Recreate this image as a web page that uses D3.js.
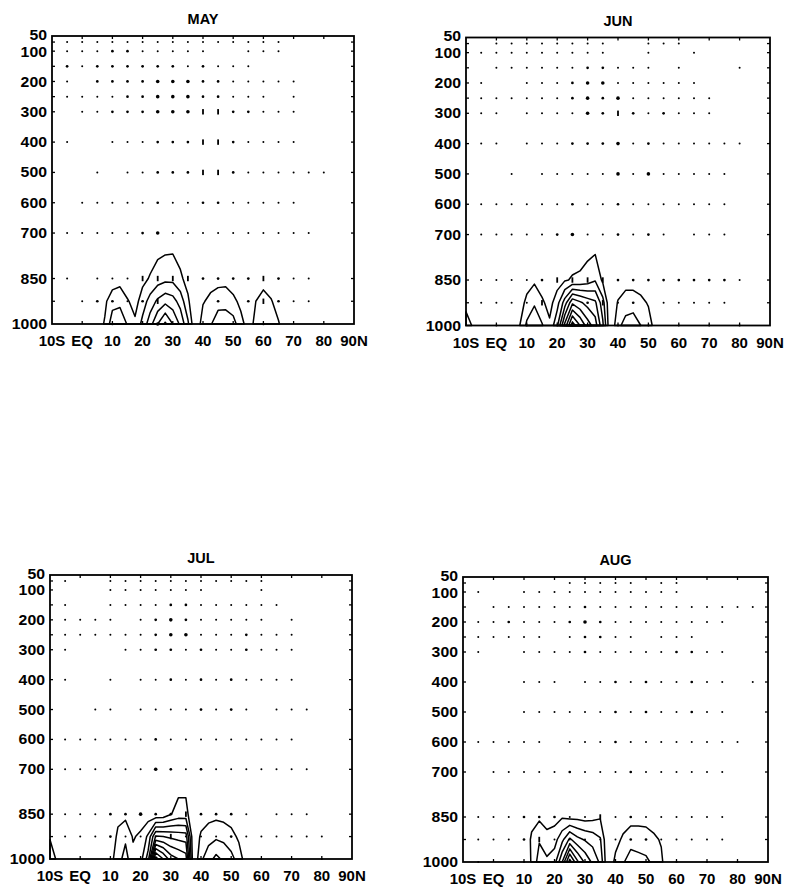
<!DOCTYPE html>
<html>
<head>
<meta charset="utf-8">
<script src="https://cdn.jsdelivr.net/npm/d3@7"></script>
<style>
  body { margin: 0; background: #fff; }
  svg { display: block; }
  text { font-family: "Liberation Sans", Arial, Helvetica, sans-serif; font-weight: bold; fill: #000; }
</style>
</head>
<body>
<svg id="fig" width="786" height="888"></svg>
<script>
// ---- axes ----
const months = ["MAY", "JUN", "JUL", "AUG"];
const pressureTicks = [50, 100, 200, 300, 400, 500, 600, 700, 850, 1000];
const latTicks = [-10, 0, 10, 20, 30, 40, 50, 60, 70, 80, 90];
const latTickLabels = ["10S", "EQ", "10", "20", "30", "40", "50", "60", "70", "80", "90N"];

// ---- circulation vectors: levels (rows) x latitudes 5S..85N (columns) ----
// 0 = none, 1 = small, 2 = medium, 3 = large, 4 = vertical arrow
const vectorLevels = [70, 100, 150, 200, 250, 300, 400, 500, 600, 700, 850, 925, 1000];
const vectorLats = d3.range(-5, 90, 5);

const mayVectors = [
  [1,1,1,1,1,1,1,1,1,1,1,1,1,1,1,0,0,0,0],
  [1,1,1,2,2,1,1,1,1,1,0,0,1,1,1,0,0,0,0],
  [2,1,2,2,2,2,2,2,1,2,1,1,1,0,0,0,0,0,0],
  [1,0,2,2,2,2,3,3,3,2,2,1,1,1,1,1,0,0,0],
  [1,1,1,1,2,2,3,3,3,2,2,1,1,1,0,1,0,0,0],
  [0,1,1,2,2,2,3,3,3,4,4,2,2,1,1,1,0,0,0],
  [1,0,0,1,1,1,2,2,2,4,4,2,1,1,1,1,0,0,0],
  [0,0,1,0,1,1,2,2,2,4,4,2,1,1,1,1,1,1,0],
  [0,1,1,1,1,1,2,1,1,2,2,1,1,1,1,1,0,0,0],
  [1,1,1,1,1,2,3,1,1,1,1,1,1,1,1,1,1,0,0],
  [1,0,1,1,1,4,4,4,4,2,2,2,2,4,2,1,1,0,0],
  [0,1,2,2,1,2,4,0,0,0,2,0,2,4,2,1,1,0,0],
  [0,0,0,2,0,0,3,0,0,0,0,1,0,2,0,0,0,0,0]
];
const junVectors = [
  [0,1,1,1,1,1,1,1,1,0,0,1,1,1,0,0,0,0,0],
  [1,1,1,1,1,1,1,1,1,0,0,1,0,0,1,0,0,0,0],
  [0,1,1,1,1,1,1,2,2,1,1,1,0,1,0,0,0,1,0],
  [1,0,0,1,1,1,2,3,3,1,1,1,1,1,1,0,0,0,0],
  [1,1,1,1,1,1,2,3,2,3,1,1,1,1,1,1,0,0,0],
  [1,1,0,1,1,1,1,3,2,4,2,1,2,1,1,1,0,0,0],
  [1,1,0,1,1,1,2,2,2,3,1,2,1,1,1,1,1,1,0],
  [0,0,1,0,1,1,1,1,1,3,1,3,1,1,1,1,1,0,0],
  [1,1,1,1,1,1,2,1,1,2,1,1,1,1,1,1,1,0,0],
  [1,1,1,1,1,2,3,1,1,2,1,2,1,0,1,1,1,0,0],
  [1,1,1,1,2,4,4,4,4,2,2,2,2,2,2,2,2,1,0],
  [1,1,1,1,4,0,0,2,4,1,2,0,1,1,1,1,1,0,0],
  [0,1,0,1,0,1,1,0,0,1,0,1,0,1,0,1,0,1,0]
];
const julVectors = [
  [1,0,0,1,1,1,1,1,1,1,1,1,1,1,0,0,0,0,0],
  [0,0,0,1,1,1,1,1,1,1,0,0,0,1,0,0,0,0,0],
  [1,0,0,1,1,1,1,2,2,1,1,1,1,1,1,0,0,0,0],
  [1,1,1,1,0,1,2,3,2,1,1,1,1,1,0,1,0,0,0],
  [1,1,1,1,1,1,2,3,3,1,1,1,2,1,1,1,0,0,0],
  [1,0,0,0,1,1,2,2,1,2,1,1,2,1,1,1,0,0,0],
  [1,0,0,1,0,1,1,2,1,2,1,2,1,1,1,1,0,0,0],
  [0,0,1,1,0,1,1,1,1,2,1,2,1,0,1,1,1,0,0],
  [1,1,1,1,1,1,2,1,1,1,1,1,1,1,1,1,0,0,0],
  [1,1,1,1,1,1,3,2,1,2,1,1,1,1,1,1,1,0,0],
  [1,1,1,2,2,3,2,2,4,2,2,2,1,0,1,1,1,0,0],
  [1,1,1,2,1,1,1,4,1,1,1,2,1,1,1,1,1,1,0],
  [0,1,0,1,0,0,0,0,0,0,0,0,0,1,0,1,0,1,0]
];
const augVectors = [
  [0,0,0,0,0,0,1,1,1,1,1,0,1,1,0,0,0,0,0],
  [1,0,0,1,1,1,1,1,1,1,1,1,1,1,0,0,0,0,0],
  [0,1,1,1,1,1,1,2,1,1,1,1,1,1,1,1,1,1,1],
  [1,1,2,1,1,1,2,3,2,1,1,1,1,1,1,1,1,0,0],
  [1,1,1,1,1,0,1,2,2,1,1,0,1,1,1,0,0,0,0],
  [1,0,0,1,1,1,1,2,1,1,1,1,1,2,2,1,1,0,0],
  [0,0,0,1,1,1,0,1,1,2,1,2,1,1,2,1,1,0,1],
  [0,0,0,1,1,1,1,1,1,2,1,2,1,1,2,1,1,0,0],
  [1,1,1,1,1,0,1,1,1,2,1,1,1,1,1,1,1,1,0],
  [0,1,1,1,1,1,2,1,1,1,2,1,1,1,1,1,1,0,0],
  [1,1,1,2,2,2,1,1,4,1,2,1,1,1,1,1,1,0,0],
  [1,1,1,2,4,1,1,1,1,1,2,2,1,1,1,1,1,0,0],
  [1,0,0,1,0,0,0,0,0,0,0,0,0,1,0,1,0,1,0]
];

// ---- lower-tropospheric field on a 2.5 degree grid ----
// each entry: [latitude, value at 700, 850, 925, 1000 hPa]; unlisted columns are 0
const fieldLevels = [700, 850, 925, 1000];
const fieldLats = d3.range(-10, 92.5, 2.5);
const contourThresholds = d3.range(1, 11);

const mayField = [
  [5, 0, 0, 0, 0.5], [7.5, 0, 0, 0.8, 1.1], [10, 0, 0.4, 1.6, 2.6], [12.5, 0, 0.6, 1.7, 2.8],
  [15, 0, 0.2, 1.1, 1.9], [17.5, 0, 0, 0.6, 1.2], [20, 0, 0.7, 1.5, 2.3], [22.5, 0.1, 1.1, 2.4, 3.6],
  [25, 0.3, 1.5, 3.2, 5.0], [27.5, 0.35, 1.7, 3.7, 6.2], [30, 0.4, 1.7, 3.4, 5.0], [32.5, 0.2, 1.2, 2.6, 3.8],
  [35, 0, 0.6, 1.2, 2.2], [40, 0, 0.3, 0.9, 1.6], [42.5, 0, 0.5, 1.3, 1.9], [45, 0, 0.6, 1.6, 2.6],
  [47.5, 0, 0.6, 1.7, 2.5], [50, 0, 0.3, 1.3, 2.4], [52.5, 0, 0, 0.7, 1.4], [55, 0, 0, 0, 0.5],
  [57.5, 0, 0.2, 1.0, 1.3], [60, 0, 0.6, 1.4, 1.8], [62.5, 0, 0.3, 1.1, 1.6], [65, 0, 0, 0.5, 1.1],
  [67.5, 0, 0, 0, 0.3]
];
const junField = [
  [-10, 0, 0, 0.8, 1.3], [-7.5, 0, 0, 0, 0.9], [7.5, 0, 0, 0.4, 0.9], [10, 0, 0.5, 1.3, 2.2],
  [12.5, 0, 0.8, 1.9, 2.6], [15, 0, 0.4, 1.2, 2.1], [17.5, 0, 0, 0.6, 1.2], [20, 0, 0.5, 1.6, 2.8],
  [22.5, 0, 0.9, 3.5, 6.3], [25, 0.2, 1.1, 5.8, 9.6], [27.5, 0.2, 1.2, 5.2, 8.0], [30, 0.3, 1.5, 4.6, 6.5],
  [32.5, 0.3, 1.9, 4.2, 5.5], [35, 0, 0.8, 2.4, 3.2], [40, 0, 0.3, 1.1, 1.8], [42.5, 0, 0.5, 1.6, 2.3],
  [45, 0, 0.5, 1.6, 2.5], [47.5, 0, 0.4, 1.3, 2.0], [50, 0, 0, 0.9, 1.5], [52.5, 0, 0, 0, 0.5]
];
const julField = [
  [-10, 0, 0, 0.9, 1.6], [-7.5, 0, 0, 0, 0.8], [10, 0, 0, 0, 0.6], [12.5, 0, 0.6, 1.3, 1.6],
  [15, 0, 0.7, 1.8, 2.4], [17.5, 0, 0.2, 0.9, 1.3], [20, 0, 0.4, 1.2, 1.6], [22.5, 0, 0.4, 2.2, 3.5],
  [25, 0, 0.2, 5.1, 10.5], [27.5, 0, 0.3, 5.0, 9.0], [30, 0, 0.95, 4.8, 7.5], [32.5, 0.3, 1.4, 4.6, 7.0],
  [35, 0.3, 1.4, 4.5, 6.5], [40, 0, 0.3, 1.2, 1.8], [42.5, 0, 0.6, 1.6, 2.6], [45, 0, 0.7, 1.8, 3.3],
  [47.5, 0, 0.6, 1.7, 2.8], [50, 0, 0.4, 1.4, 2.3], [52.5, 0, 0, 0.8, 1.6], [55, 0, 0, 0, 0.4]
];
const augField = [
  [10, 0, 0, 0, 0.2], [12.5, 0, 0.6, 1.2, 1.1], [15, 0, 0.8, 1.9, 2.5], [17.5, 0, 0.5, 1.4, 2.2],
  [20, 0, 0.6, 1.6, 2.6], [22.5, 0, 0.9, 2.7, 5.0], [25, 0, 0.7, 4.2, 8.5], [27.5, 0, 0.7, 3.3, 6.2],
  [30, 0, 0.6, 2.9, 4.8], [32.5, 0, 0.7, 2.6, 3.8], [35, 0, 0.9, 2.1, 2.8], [40, 0, 0, 0.6, 1.3],
  [42.5, 0, 0.4, 1.2, 1.9], [45, 0, 0.6, 1.6, 2.5], [47.5, 0, 0.6, 1.6, 2.3], [50, 0, 0.6, 1.5, 2.2],
  [52.5, 0, 0.5, 1.2, 1.8], [55, 0, 0, 0.9, 1.2], [57.5, 0, 0, 0, 0.2]
];

// ---- page layout of the four panels ----
const panelBoxes = [
  { x0: 52,  x1: 354, y0: 36,   y1: 324 },
  { x0: 466, x1: 770, y0: 37.5, y1: 325.5 },
  { x0: 50,  x1: 352, y0: 575,  y1: 859 },
  { x0: 463, x1: 768, y0: 577,  y1: 862 }
];
const panelVectors = [mayVectors, junVectors, julVectors, augVectors];
const panelFields = [mayField, junField, julField, augField];

const svg = d3.select("#fig");

function drawPanel(box, title, vectors, field) {
  const x = d3.scaleLinear().domain([-10, 90]).range([box.x0, box.x1]);
  const y = d3.scaleLinear().domain([50, 1000]).range([box.y0, box.y1]);
  const g = svg.append("g");

  // vectors
  const dotR = [0, 1.0, 1.35, 1.8];
  vectors.forEach((row, i) => row.forEach((m, j) => {
    if (!m) return;
    const cx = x(vectorLats[j]), cy = y(vectorLevels[i]);
    if (m === 4) {
      g.append("rect").attr("x", cx - 0.9).attr("y", cy - 2.7)
        .attr("width", 1.8).attr("height", 5.4).attr("fill", "#000");
    } else {
      g.append("circle").attr("cx", cx).attr("cy", cy).attr("r", dotR[m]).attr("fill", "#000");
    }
  }));

  // contours of the gridded field
  const nx = fieldLats.length, ny = fieldLevels.length;
  const grid = new Array(nx * ny).fill(0);
  field.forEach(([lat, ...vals]) => {
    const i = Math.round((lat - fieldLats[0]) / 2.5);
    vals.forEach((v, j) => { grid[j * nx + i] = v; });
  });
  const colToLat = d3.scaleLinear().domain([0, nx - 1]).range([fieldLats[0], fieldLats[nx - 1]]).clamp(true);
  const rowToP = d3.scaleLinear().domain(d3.range(ny)).range(fieldLevels).clamp(true);
  const line = d3.line()
    .x(d => x(colToLat(d[0] - 0.5)))
    .y(d => y(rowToP(d[1] - 0.5)));
  const contours = d3.contours().size([nx, ny]).thresholds(contourThresholds)(grid);
  contours.forEach(c => c.coordinates.forEach(poly => poly.forEach(ring => {
    g.append("path").attr("d", line(ring) + "Z")
      .attr("fill", "none").attr("stroke", "#000")
      .attr("stroke-width", 1.5).attr("stroke-linejoin", "round");
  })));

  // frame
  g.append("rect").attr("x", box.x0).attr("y", box.y0)
    .attr("width", box.x1 - box.x0).attr("height", box.y1 - box.y0)
    .attr("fill", "none").attr("stroke", "#000").attr("stroke-width", 1.8);

  // inward ticks
  const tk = 3;
  d3.range(0, 90, 10).forEach(lat => {
    g.append("line").attr("x1", x(lat)).attr("x2", x(lat)).attr("y1", box.y0).attr("y2", box.y0 + tk)
      .attr("stroke", "#000").attr("stroke-width", 1.3);
    g.append("line").attr("x1", x(lat)).attr("x2", x(lat)).attr("y1", box.y1).attr("y2", box.y1 - tk)
      .attr("stroke", "#000").attr("stroke-width", 1.3);
  });
  vectorLevels.slice(0, -1).forEach(p => {
    g.append("line").attr("x1", box.x0).attr("x2", box.x0 + tk).attr("y1", y(p)).attr("y2", y(p))
      .attr("stroke", "#000").attr("stroke-width", 1.3);
    g.append("line").attr("x1", box.x1).attr("x2", box.x1 - tk).attr("y1", y(p)).attr("y2", y(p))
      .attr("stroke", "#000").attr("stroke-width", 1.3);
  });

  // pressure labels, slightly widened; "50" sits a little higher so it clears "100"
  g.selectAll("text.p").data(pressureTicks).enter().append("text")
    .attr("transform", d => `translate(${box.x0 - 5},${y(d) + (d === 50 ? -1.5 : d === 100 ? 0.5 : 0)}) scale(1.13,1)`)
    .attr("dy", "0.36em")
    .attr("text-anchor", "end").attr("font-size", 14).text(d => d);
  g.selectAll("text.l").data(latTicks).enter().append("text")
    .attr("x", d => x(d)).attr("y", box.y1 + 22)
    .attr("text-anchor", "middle").attr("font-size", 15)
    .text((d, i) => latTickLabels[i]);
  g.append("text").attr("x", (box.x0 + box.x1) / 2).attr("y", box.y0 - 11.7)
    .attr("text-anchor", "middle").attr("font-size", 14.5).text(title);
}

months.forEach((m, i) => drawPanel(panelBoxes[i], m, panelVectors[i], panelFields[i]));
</script>
</body>
</html>
